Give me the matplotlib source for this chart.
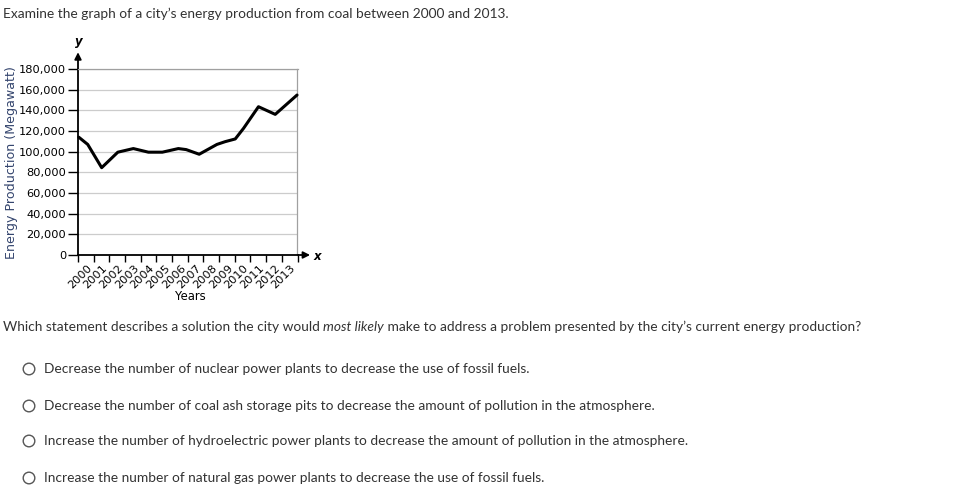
import matplotlib
matplotlib.use("Agg")
import matplotlib.pyplot as plt
from matplotlib.patches import Circle

# ---- data ----
title_text = "Examine the graph of a city\u2019s energy production from coal between 2000 and 2013."
question_parts = ["Which statement describes a solution the city would ", "most likely",
                  " make to address a problem presented by the city\u2019s current energy production?"]
options = [
    "Decrease the number of nuclear power plants to decrease the use of fossil fuels.",
    "Decrease the number of coal ash storage pits to decrease the amount of pollution in the atmosphere.",
    "Increase the number of hydroelectric power plants to decrease the amount of pollution in the atmosphere.",
    "Increase the number of natural gas power plants to decrease the use of fossil fuels.",
]
year_labels = ["2000", "2001", "2002", "2003", "2004", "2005", "2006",
               "2007", "2008", "2009", "2010", "2011", "2012", "2013"]
label_positions = [2000, 2001, 2002, 2003, 2004, 2005, 2006,
                   2007, 2008, 2009, 2010, 2011, 2012, 2013]
curve_x = [1999.05, 1999.62, 2000.51, 2001.54, 2002.53, 2003.49, 2004.38, 2005.40,
           2005.90, 2006.73, 2007.86, 2008.39, 2009.03, 2009.56, 2010.51, 2011.58, 2012.97]
curve_y = [114000, 107000, 84500, 99500, 103000, 99500, 99500, 103000,
           102000, 97500, 107000, 109700, 112300, 122600, 143500, 136100, 154800]
y_ticks = [0, 20000, 40000, 60000, 80000, 100000, 120000, 140000, 160000, 180000]

W, H = 962, 503
fig = plt.figure(figsize=(W / 100, H / 100), dpi=100)
fig.patch.set_facecolor("white")

def fx(px):
    return px / W

def fy(py):
    return 1 - py / H

# ---- chart ----
left, right, top, bottom = 78, 297.5, 69, 255
ax = fig.add_axes([fx(left), fy(bottom), (right - left) / W, (bottom - top) / H])
ax.set_xlim(1999, 2013)
ax.set_ylim(0, 180000)
ax.plot(curve_x, curve_y, color="black", lw=2.2, solid_joinstyle="round",
        solid_capstyle="round", clip_on=False, zorder=3)

ax.set_yticks(y_ticks)
ax.set_yticklabels([f"{v:,}" for v in y_ticks], fontsize=8.2, family="DejaVu Sans")
ax.set_xticks([1999] + label_positions)
ax.set_xticklabels([""] + year_labels, rotation=45, ha="right", va="top",
                   fontsize=8.2, family="DejaVu Sans")
ax.tick_params(axis="y", length=7, width=1, pad=1.5, color="black")
ax.tick_params(axis="x", length=5, width=1, pad=1, color="black")
ax.grid(axis="y", color="#cccccc", lw=0.9)
ax.set_axisbelow(True)
for s in ["top", "right"]:
    ax.spines[s].set_color("#a0a0a0")
    ax.spines[s].set_linewidth(0.9)
for s in ["left", "bottom"]:
    ax.spines[s].set_color("black")
    ax.spines[s].set_linewidth(1.3)

# axis arrows
ax.annotate("", xy=(0, 1.105), xytext=(0, 0.99), xycoords="axes fraction",
            arrowprops=dict(arrowstyle="-|>", color="black", lw=1.3, mutation_scale=10),
            annotation_clip=False)
ax.annotate("", xy=(1.07, 0), xytext=(0.99, 0), xycoords="axes fraction",
            arrowprops=dict(arrowstyle="-|>", color="black", lw=1.3, mutation_scale=10),
            annotation_clip=False)
fig.text(fx(79), fy(42), "y", fontsize=8.5, fontweight="bold", fontstyle="italic",
         ha="center", va="center", family="DejaVu Sans")
fig.text(fx(317), fy(256), "x", fontsize=8.5, fontweight="bold", fontstyle="italic",
         ha="center", va="center", family="DejaVu Sans")
fig.text(fx(190), fy(297), "Years", fontsize=8.4, ha="center", va="center", family="DejaVu Sans")
fig.text(fx(12), fy(163), "Energy Production (Megawatt)", fontsize=9.1, rotation=90,
         ha="center", va="center", color="#34456e", family="DejaVu Sans")

# ---- page text ----
txt_color = "#333333"
fs = 9.95
fig.text(fx(3), fy(14), title_text, fontsize=fs, family="Lato", color=txt_color,
         ha="left", va="center")

renderer = fig.canvas.get_renderer()
xpos = fx(3)
for i, part in enumerate(question_parts):
    t = fig.text(xpos, fy(327), part, fontsize=fs, family="Lato", color=txt_color,
                 ha="left", va="center", fontstyle="italic" if i == 1 else "normal")
    bb = t.get_window_extent(renderer)
    xpos = bb.x1 / W

opt_y = [369, 406, 441, 478]
for oy, otext in zip(opt_y, options):
    c = Circle((29 / 100, (H - oy) / 100), 0.058, transform=fig.dpi_scale_trans,
               facecolor="white", edgecolor="#555555", lw=1.0)
    fig.add_artist(c)
    fig.text(fx(44), fy(oy), otext, fontsize=fs, family="Lato", color=txt_color,
             ha="left", va="center")

fig.savefig("out.png", dpi=100, facecolor="white")
